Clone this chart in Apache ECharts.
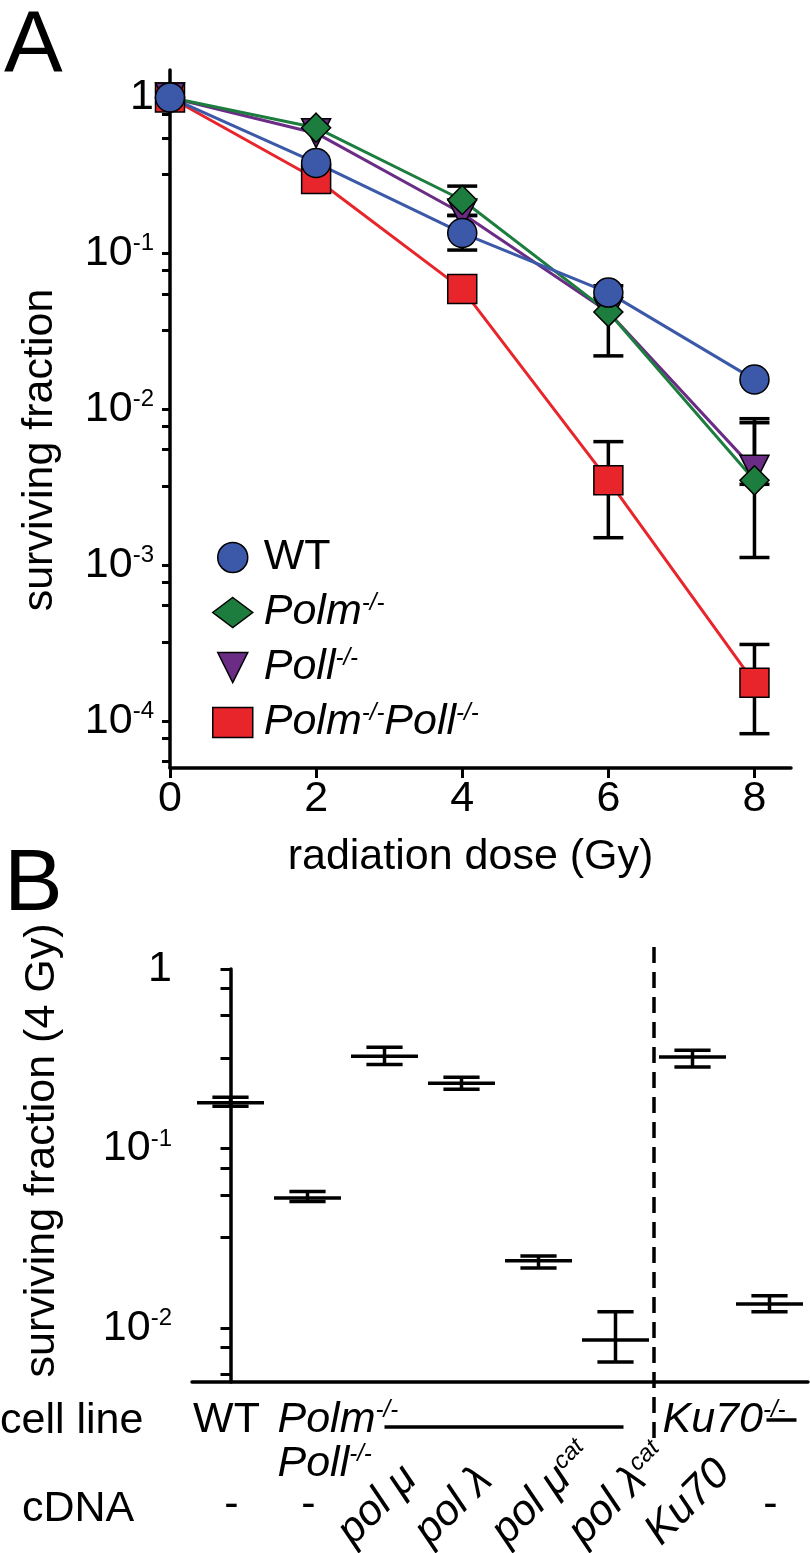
<!DOCTYPE html>
<html><head><meta charset="utf-8">
<script src="https://cdn.jsdelivr.net/npm/echarts@6/dist/echarts.min.js"></script>
<style>html,body{margin:0;padding:0;background:#fff}#c{width:810px;height:1553px}</style>
</head><body><div id="c"></div>
<script>
// ---------- Panel A data ----------
const doses = [0, 2, 4, 6, 8];
const wtVals   = [1.0, 0.38, 0.135, 0.056, 0.0155];
const polmVals = [1.0, 0.64, 0.22, 0.042, 0.0035];
const pollVals = [1.0, 0.59, 0.18, 0.042, 0.0041];
const dkoVals  = [1.0, 0.30, 0.059, 0.0035, 0.000176];
// error bars: [dose, low, high]
const wtErr   = [[4, 0.105, 0.175]];
const polmErr = [[4, 0.175, 0.27], [6, 0.022, 0.062], [8, 0.00112, 0.0087]];
const pollErr = [[8, 0.0033, 0.0082]];
const dkoErr  = [[6, 0.0015, 0.0062], [8, 0.000083, 0.00031]];
const xTicksA = [0, 2, 4, 6, 8];
const yLabelsA = [1, 0.1, 0.01, 0.001, 0.0001];
const yMinorA = [0.78, 0.55, 0.32, 0.078, 0.055, 0.032, 0.0078, 0.0055, 0.0032,
                 0.00078, 0.00055, 0.00032, 0.000078, 0.000055];

// ---------- Panel B data ----------
const catsB = ['WT', 'Polm/Poll', 'pol mu', 'pol lambda', 'pol mu cat', 'pol lambda cat', 'Ku70 + Ku70', 'Ku70'];
const meansB = [0.18, 0.053, 0.327, 0.231, 0.0237, 0.00857, 0.323, 0.0136];
const lowsB  = [0.172, 0.0506, 0.294, 0.214, 0.0216, 0.00646, 0.284, 0.0123];
const highsB = [0.193, 0.0575, 0.366, 0.249, 0.0252, 0.0123, 0.353, 0.0151];
const cellLineText = ['WT', '{i|Polm}{s|-/-}\n{i|Poll}{s|-/-}', '', '', '', '', '{i|Ku70}{s|-/-}', ''];
const cdnaText = ['-', '-', '{i|pol μ}', '{i|pol λ}', '{i|pol μ}{s|cat}', '{i|pol λ}{s|cat}', '{i|Ku70}', '-'];
const cellLineBars = [[2, 5], [7, 7]];
const dividerAt = [5.5];
const yLabelsB = [1, 0.1, 0.01];
const yMinorB = [0.78, 0.55, 0.32, 0.078, 0.055, 0.032, 0.0078, 0.0055];

const F = '"Liberation Sans", Arial, Helvetica, sans-serif';
const C = { blue: '#3b59a8', green: '#1c7d3f', purple: '#6b2c85', red: '#e8252b' };

const logFmt = v => {
  const e = Math.round(Math.log10(v));
  return e === 0 ? '{n|1}' : '{n|10}{s|' + e + '}';
};
const supRich = {
  n: { fontSize: 43, fontFamily: F, color: '#000' },
  s: { fontSize: 24, fontFamily: F, color: '#000', verticalAlign: 'top' }
};
const italRich = {
  n: { fontSize: 43, fontFamily: F, color: '#000' },
  i: { fontSize: 43, fontFamily: F, fontStyle: 'italic', color: '#000' },
  s: { fontSize: 24, fontFamily: F, fontStyle: 'italic', color: '#000', verticalAlign: 'top' }
};

const chart = echarts.init(document.getElementById('c'), null, { renderer: 'canvas' });

function lineSeries(name, vals, color, symbol, rotate) {
  return {
    name, type: 'line', xAxisIndex: 0, yAxisIndex: 0, z: 3,
    data: doses.map((d, i) => [d, vals[i]]),
    symbol, symbolSize: 29, symbolRotate: rotate || 0,
    lineStyle: { color, width: 3 },
    itemStyle: { color, borderColor: '#000', borderWidth: 1.5 },
    emphasis: { disabled: true }, animation: false
  };
}

const errA = [...wtErr, ...polmErr, ...pollErr, ...dkoErr];
const AX = { color: '#000', width: 3.5 };

const option = {
  animation: false,
  grid: [
    { left: 170, top: 70, width: 621, height: 698 },
    { left: 192, top: 969, width: 616, height: 413 }
  ],
  graphic: [
    { type: 'text', left: 4, top: 4, style: { text: 'A', fontSize: 88, fontFamily: F, fill: '#000' } },
    { type: 'text', left: 4, top: 842, style: { text: 'B', fontSize: 88, fontFamily: F, fill: '#000' } },
    { type: 'text', left: 0, top: 1400, style: { text: 'cell line', fontSize: 43, fontFamily: F, fill: '#000' } },
    { type: 'text', left: 22, top: 1488, style: { text: 'cDNA', fontSize: 43, fontFamily: F, fill: '#000' } }
  ],
  legend: {
    orient: 'vertical', left: 212, top: 536, padding: 0, itemWidth: 40, itemHeight: 30, itemGap: 12,
    selectedMode: false,
    data: [
      { name: 'WT', icon: 'circle', itemStyle: { color: C.blue, borderColor: '#000', borderWidth: 1.5 } },
      { name: 'Polm', icon: 'diamond', itemStyle: { color: C.green, borderColor: '#000', borderWidth: 1.5 } },
      { name: 'Poll', icon: 'path://M0,0L10,0L5,10Z', itemStyle: { color: C.purple, borderColor: '#000', borderWidth: 1.5 } },
      { name: 'DKO', icon: 'rect', itemStyle: { color: C.red, borderColor: '#000', borderWidth: 1.5 } }
    ],
    formatter: name => ({
      WT: '{n|WT}', Polm: '{i|Polm}{s|-/-}', Poll: '{i|Poll}{s|-/-}', DKO: '{i|Polm}{s|-/-}{i|Poll}{s|-/-}'
    })[name],
    textStyle: { fontSize: 43, fontFamily: F, color: '#000', padding: [0, 0, 0, 6], rich: italRich }
  },
  xAxis: [
    {
      type: 'value', gridIndex: 0, min: 0, max: 8.5,
      axisLine: { lineStyle: AX },
      axisTick: { customValues: xTicksA, length: 10, lineStyle: { color: '#000', width: 3 } },
      axisLabel: { customValues: xTicksA, fontSize: 43, fontFamily: F, color: '#000', margin: 10 },
      splitLine: { show: false },
      name: 'radiation dose (Gy)', nameLocation: 'middle', nameGap: 68,
      nameTextStyle: { fontSize: 43, fontFamily: F, color: '#000', padding: [0, 20, 0, 0] }
    },
    {
      type: 'category', gridIndex: 1, data: catsB, boundaryGap: true,
      axisLine: { lineStyle: AX },
      axisTick: { alignWithLabel: true, length: 13, lineStyle: { color: '#000', width: 3 } },
      axisLabel: { show: false }, splitLine: { show: false }
    },
    { type: 'value', gridIndex: 1, min: -0.5, max: 7.5, show: false }
  ],
  yAxis: [
    {
      type: 'log', logBase: 10, gridIndex: 0, min: 0.00005, max: 1.5,
      axisLine: { show: true, lineStyle: AX },
      axisTick: { customValues: yLabelsA.concat(yMinorA), length: 8, lineStyle: { color: '#000', width: 3 } },
      axisLabel: { customValues: yLabelsA, formatter: logFmt, rich: supRich, margin: 16 },
      splitLine: { show: false }, minorTick: { show: false },
      name: 'surviving fraction', nameLocation: 'middle', nameGap: 108,
      nameTextStyle: { fontSize: 43, fontFamily: F, color: '#000', padding: [0, 62, 0, 0] }
    },
    {
      type: 'log', logBase: 10, gridIndex: 1, min: 0.005, max: 1,
      axisLine: { show: true, lineStyle: AX },
      axisTick: { customValues: yLabelsB.concat(yMinorB), length: 10, lineStyle: { color: '#000', width: 3 } },
      axisLabel: { customValues: yLabelsB, formatter: logFmt, rich: supRich, margin: 20 },
      splitLine: { show: false }, minorTick: { show: false },
      name: 'surviving fraction (4 Gy)', nameLocation: 'middle', nameGap: 128,
      nameTextStyle: { fontSize: 43, fontFamily: F, color: '#000', padding: [0, 0, 0, 50] }
    }
  ],
  series: [
    {
      type: 'custom', xAxisIndex: 0, yAxisIndex: 0, z: 1, data: errA, silent: true,
      encode: { x: 0, y: [1, 2] },
      renderItem(params, api) {
        const x = api.value(0);
        const lo = api.coord([x, api.value(1)]), hi = api.coord([x, api.value(2)]);
        const w = 15, st = { stroke: '#000', lineWidth: 3.5 };
        return { type: 'group', children: [
          { type: 'line', shape: { x1: lo[0], y1: lo[1], x2: hi[0], y2: hi[1] }, style: st },
          { type: 'line', shape: { x1: lo[0] - w, y1: lo[1], x2: lo[0] + w, y2: lo[1] }, style: st },
          { type: 'line', shape: { x1: hi[0] - w, y1: hi[1], x2: hi[0] + w, y2: hi[1] }, style: st }
        ] };
      }
    },
    lineSeries('DKO', dkoVals, C.red, 'rect'),
    lineSeries('Poll', pollVals, C.purple, 'triangle', 180),
    lineSeries('Polm', polmVals, C.green, 'diamond'),
    lineSeries('WT', wtVals, C.blue, 'circle'),
    {
      type: 'custom', xAxisIndex: 1, yAxisIndex: 1, silent: true,
      data: catsB.map((c, i) => [i, meansB[i], lowsB[i], highsB[i]]),
      encode: { x: 0, y: [1, 2, 3] },
      renderItem(params, api) {
        const i = api.value(0);
        const bw = api.size([1, 0])[0];
        const m = api.coord([i, api.value(1)]);
        const lo = api.coord([i, api.value(2)]), hi = api.coord([i, api.value(3)]);
        const mw = bw * 0.435, cw = bw * 0.235, st = { stroke: '#000', lineWidth: 3.5 };
        return { type: 'group', children: [
          { type: 'line', shape: { x1: m[0] - mw, y1: m[1], x2: m[0] + mw, y2: m[1] }, style: st },
          { type: 'line', shape: { x1: lo[0], y1: lo[1], x2: hi[0], y2: hi[1] }, style: st },
          { type: 'line', shape: { x1: lo[0] - cw, y1: lo[1], x2: lo[0] + cw, y2: lo[1] }, style: st },
          { type: 'line', shape: { x1: hi[0] - cw, y1: hi[1], x2: hi[0] + cw, y2: hi[1] }, style: st }
        ] };
      }
    },
    {
      type: 'custom', xAxisIndex: 2, yAxisIndex: 1, silent: true, clip: false,
      data: dividerAt.map(v => [v, 1]),
      renderItem(params, api) {
        const p = api.coord([api.value(0), api.value(1)]);
        return { type: 'line', shape: { x1: p[0], y1: p[1] - 22, x2: p[0], y2: p[1] + 478 },
          style: { stroke: '#000', lineWidth: 3.5, lineDash: [16, 9] } };
      }
    },
    {
      type: 'custom', xAxisIndex: 1, yAxisIndex: 1, silent: true, clip: false,
      data: catsB.map((c, i) => [i, 0.005]),
      renderItem(params, api) {
        const i = api.value(0);
        const p = api.coord([i, 0.005]);
        const kids = [];
        const cl = cellLineText[i];
        if (cl) {
          kids.push({ type: 'text', x: i === 0 ? p[0] - 4 : p[0] - 30, y: p[1] + 16,
            style: { text: cl, align: i === 0 ? 'center' : 'left', verticalAlign: 'top',
              fontSize: 43, fontFamily: F, fill: '#000', lineHeight: 44, rich: italRich } });
        }
        const cd = cdnaText[i];
        if (cd === '-') {
          kids.push({ type: 'text', x: p[0] + 1, y: p[1] + 123,
            style: { text: cd, align: 'center', verticalAlign: 'middle', fontSize: 43, fontFamily: F, fill: '#000' } });
        } else {
          kids.push({ type: 'text', x: p[0] - 40, y: p[1] + 156, rotation: Math.PI / 4,
            style: { text: cd, align: 'left', verticalAlign: 'middle', fontSize: 43, fontFamily: F, fill: '#000', rich: italRich } });
        }
        return { type: 'group', children: kids };
      }
    },
    {
      type: 'custom', xAxisIndex: 1, yAxisIndex: 1, silent: true, clip: false,
      data: cellLineBars.map(b => [b[0], 0.005, b[1]]),
      renderItem(params, api) {
        const a = api.coord([api.value(0), 0.005]), b = api.coord([api.value(2), 0.005]);
        const single = api.value(0) === api.value(2);
        const x1 = single ? a[0] - 3 : a[0], x2 = single ? b[0] + 27 : b[0] + 8;
        const y = single ? a[1] + 38 : a[1] + 45;
        return { type: 'line', shape: { x1, y1: y, x2, y2: y }, style: { stroke: '#000', lineWidth: 3.5 } };
      }
    }
  ]
};
chart.setOption(option);
</script>
</body></html>
